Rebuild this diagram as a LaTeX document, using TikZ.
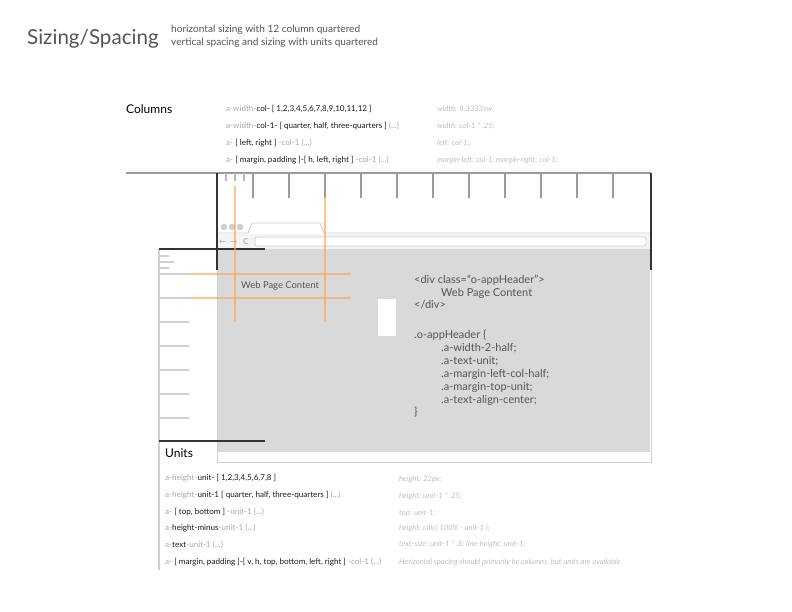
\documentclass[tikz,border=0pt]{standalone}
\usepackage{fontspec}
\setmainfont{Lato}
\newfontfamily\arrowfont{DejaVu Sans}

\definecolor{titlegray}{HTML}{555555}
\definecolor{rulegray}{HTML}{9A9A9A}
\definecolor{framedark}{HTML}{333333}
\definecolor{chromegray}{HTML}{D0D0D0}
\definecolor{icongray}{HTML}{B0B0B0}
\definecolor{navgray}{HTML}{F4F4F4}
\definecolor{pagegray}{HTML}{D9D9D9}
\definecolor{guideorange}{HTML}{FFA64D}
\definecolor{codelite}{HTML}{A8A8A8}
\definecolor{notelite}{HTML}{BDBDBD}
\definecolor{codedark}{HTML}{1A1A1A}

\newcommand{\lite}[1]{\textcolor{codelite}{#1}}

\begin{document}
\begin{tikzpicture}[x=1pt, y=-1pt,
  txt/.style={inner sep=0pt, anchor=west, text height=0.7em, text depth=0.2em},
  code/.style={txt, font=\fontsize{8.1}{9}\selectfont, text=codedark},
  note/.style={txt, font=\fontsize{7.6}{9}\selectfont\itshape, text=notelite},
  html/.style={txt, font=\fontsize{11}{13}\selectfont, text=titlegray},
  heading/.style={txt, font=\fontsize{12}{14}\selectfont, text=black},
  ruler/.style={draw=rulegray, line width=1.6pt},
  tick/.style={draw=rulegray, line width=1.3pt},
  frame/.style={draw=framedark, line width=1.8pt},
  chrome/.style={draw=chromegray, line width=0.9pt},
  guide/.style={draw=guideorange, line width=1.6pt, opacity=0.65}]

  \useasboundingbox (0,0) rectangle (792,612);

  % ================= title =================
  \node[txt, font=\fontsize{20.6}{24}\selectfont, text=titlegray] (title) at (27,42) {Sizing/Spacing};
  \node[txt, font=\fontsize{10.1}{12}\selectfont, text=titlegray] (subtitle1) at (171,30) {horizontal sizing with 12 column quartered};
  \node[txt, font=\fontsize{10.1}{12}\selectfont, text=titlegray] (subtitle2) at (171,43) {vertical spacing and sizing with units quartered};

  % ================= columns =================
  \node[heading] (columns) at (126,111) {Columns};
  \node[code] (col1) at (226,109) {\lite{a-width-}col- [ 1,2,3,4,5,6,7,8,9,10,11,12 ]};
  \node[code] (col2) at (226,126) {\lite{a-width-}col-1- [ quarter, half, three-quarters ] \lite{ (...)}};
  \node[code] (col3) at (226,143) {\lite{a- }[ left, right ] \lite{-col-1 (...)}};
  \node[code] (col4) at (226,160) {\lite{a- }[ margin, padding ]-[ h, left, right ] \lite{-col-1 (...)}};
  \node[note] (colnote1) at (437,109) {width: 8.3333vw;};
  \node[note] (colnote2) at (437,126) {width: col-1 * .25;};
  \node[note] (colnote3) at (437,143) {left: col-1;};
  \node[note] (colnote4) at (437,160) {margin-left: col-1; margin-right: col-1;};

  % ================= browser =================
  \fill[navgray] (218,234) rectangle (650,249);
  \fill[pagegray] (218,249) rectangle (650,452);
  \draw[chrome] (217,233) -- (248,233) -- (252,223) -- (320,223) -- (324,233) -- (651,233);
  \draw[chrome] (217,234) -- (217,462) -- (651,462) -- (651,234);
  \draw[chrome, fill=white, rounded corners=1.5pt] (255,237) rectangle (646,246);
  \foreach \x in {224,232,240}
    \fill[chromegray] (\x,227) circle (3.3);
  \node[txt, font=\arrowfont\fontsize{8.5}{9}\selectfont, text=icongray] (back) at (219,242) {←};
  \node[txt, font=\arrowfont\fontsize{8.5}{9}\selectfont, text=icongray] (fwd) at (230,242) {→};
  \node[txt, font=\bfseries\fontsize{8}{8}\selectfont, text=icongray] (reload) at (243,242) {C};

  % ================= top ruler =================
  \draw[ruler] (126,173) -- (651,173);
  \foreach \k in {1,...,11}
    \draw[tick] (217+36*\k,173) -- ++(0,25);
  \foreach \x in {226,235,244}
    \draw[tick, draw=rulegray!70] (\x,173) -- ++(0,8);
  \draw[frame] (217,173) -- (217,270);
  \draw[frame] (651,173) -- (651,270);

  % ================= left ruler =================
  \draw[ruler, draw=chromegray] (159,249) -- (159,570);
  \draw[tick, draw=chromegray] (159,256) -- (169,256);
  \draw[tick, draw=chromegray] (159,262) -- (174,262);
  \draw[tick, draw=chromegray] (159,268) -- (169,268);
  \foreach \k in {0,...,6}
    \draw[tick, draw=chromegray] (159,274+24*\k) -- ++(30,0);
  \draw[frame] (159,249) -- (265,249);
  \draw[frame] (159,441) -- (265,441);

  % ================= guides =================
  \draw[guide] (189,274) -- (351,274);
  \draw[guide] (189,298) -- (351,298);
  \draw[guide] (235,186) -- (235,322);
  \draw[guide] (325,197) -- (325,322);
  \node[txt, font=\fontsize{9.4}{11}\selectfont, text=titlegray] (content) at (241,286) {Web Page Content};
  \fill[white] (378,299) rectangle (396,336);

  % ================= markup =================
  \node[html] (div1) at (414,281) {<div class=“o-appHeader”>};
  \node[html] (div2) at (441,293.5) {Web Page Content};
  \node[html] (div3) at (414,306) {</div>};
  \node[html] (css1) at (414,336) {.o-appHeader \{};
  \node[html] (css2) at (441,349) {.a-width-2-half;};
  \node[html] (css3) at (441,362) {.a-text-unit;};
  \node[html] (css4) at (441,375) {.a-margin-left-col-half;};
  \node[html] (css5) at (441,388) {.a-margin-top-unit;};
  \node[html] (css6) at (441,400.5) {.a-text-align-center;};
  \node[html] (css7) at (414,413) {\}};

  % ================= units =================
  \node[heading] (units) at (165,455) {Units};
  \node[code] (unit1) at (165,478) {\lite{a-height-}unit- [ 1,2,3,4,5,6,7,8 ]};
  \node[code] (unit2) at (165,495) {\lite{a-height-}unit-1 [ quarter, half, three-quarters ] \lite{ (...)}};
  \node[code] (unit3) at (165,512) {\lite{a- }[ top, bottom ] \lite{-unit-1 (...)}};
  \node[code] (unit4) at (165,528) {\lite{a-}height-minus\lite{-unit-1 (...)}};
  \node[code] (unit5) at (165,545) {\lite{a-}text\lite{-unit-1 (...)}};
  \node[code] (unit6) at (165,562) {\lite{a- }[ margin, padding ]-[ v, h, top, bottom, left, right ] \lite{-col-1 (...)}};
  \node[note] (unitnote1) at (399,479) {height: 22px;};
  \node[note] (unitnote2) at (399,496) {height: unit-1 * .25;};
  \node[note] (unitnote3) at (399,513) {top: unit-1;};
  \node[note] (unitnote4) at (399,528) {height: calc( 100\% - unit-1 );};
  \node[note] (unitnote5) at (399,544) {text-size: unit-1 * .8; line-height: unit-1;};
  \node[note] (unitnote6) at (399,562) {Horizontal spacing should primarily be columns, but units are available};

\end{tikzpicture}
\end{document}
